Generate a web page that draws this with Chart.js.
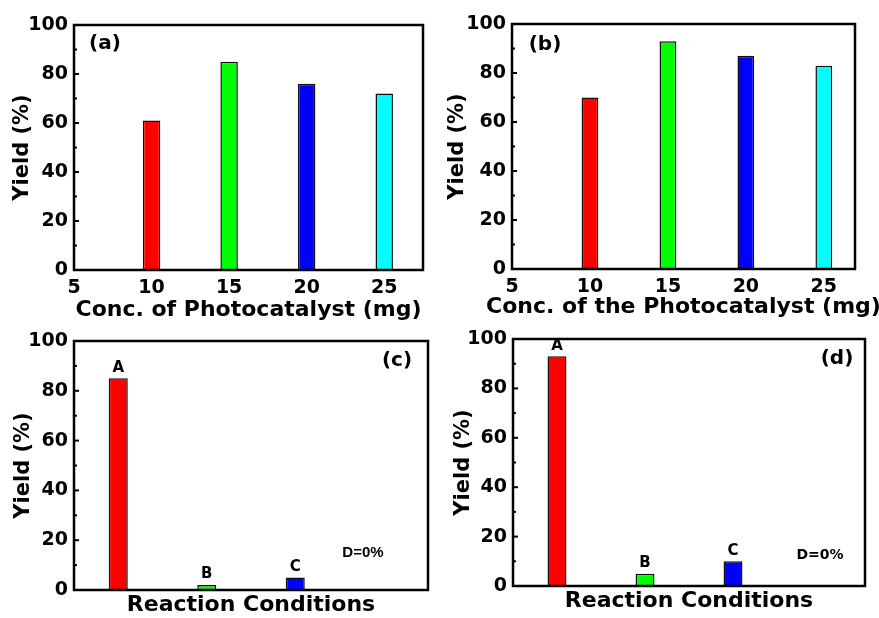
<!DOCTYPE html>
<html>
<head>
<meta charset="utf-8">
<script src="https://cdn.jsdelivr.net/npm/chart.js"></script>
<style>
  body { margin: 0; background: #fff; }
  .panel { position: absolute; }
</style>
</head>
<body>
<div class="panel" style="left:0;top:0"><canvas id="chartA" width="440" height="330"></canvas></div>
<div class="panel" style="left:440px;top:0"><canvas id="chartB" width="439" height="330"></canvas></div>
<div class="panel" style="left:0;top:318px"><canvas id="chartC" width="440" height="300"></canvas></div>
<div class="panel" style="left:440px;top:318px"><canvas id="chartD" width="439" height="300"></canvas></div>
<script>
// photocatalyst amount (mg) and yields
const concValues = [10, 15, 20, 25];
const yieldA = [61, 85, 76, 72];
const yieldB = [70, 93, 87, 83];
const xTickLabels = [5, 10, 15, 20, 25];
const yTickLabels = [0, 20, 40, 60, 80, 100];

// reaction conditions
const conditions = ['A', 'B', 'C', 'D'];
const yieldC = [85, 2, 5, 0];
const yieldD = [93, 5, 10, 0];
const noteText = 'D=0%';

const concColors = ['#ff0000', '#00ff00', '#0000ff', '#00ffff'];
const condColors = ['#ff0000', '#00ff00', '#0000ff', '#ffffff'];

Chart.defaults.font.family = 'DejaVu Sans';
Chart.defaults.font.weight = 'bold';
Chart.defaults.color = '#000';

// frame, inward ticks, x title, panel tag and bar letters
const decorPlugin = {
    id: 'decor',
    afterDatasetsDraw(chart, args, opts) {
        const ctx = chart.ctx;
        const area = chart.chartArea;
        const y = chart.scales.y;
        ctx.save();
        ctx.strokeStyle = '#000';
        ctx.lineWidth = 2;
        for (let v = 0; v <= 100; v += 10) {
            const py = y.getPixelForValue(v);
            const len = v % 20 === 0 ? 5 : 3;
            ctx.beginPath();
            ctx.moveTo(area.left, py);
            ctx.lineTo(area.left + len, py);
            ctx.stroke();
        }
        ctx.lineWidth = 2.5;
        ctx.strokeRect(area.left, area.top, area.right - area.left, area.bottom - area.top);

        ctx.fillStyle = '#000';
        ctx.textAlign = 'center';
        ctx.textBaseline = 'middle';
        ctx.font = 'bold 22px "DejaVu Sans"';
        ctx.fillText(opts.xTitle, (area.left + area.right) / 2, area.bottom + opts.xTitleY);

        ctx.font = 'bold 20px "DejaVu Sans"';
        const tx = opts.tagFromRight ? area.right - opts.tagX : area.left + opts.tagX;
        ctx.fillText(opts.tag, tx, area.top + opts.tagY);

        if (opts.letters) {
            const meta = chart.getDatasetMeta(0);
            ctx.font = 'bold ' + opts.letterSize + 'px "DejaVu Sans"';
            ctx.textBaseline = 'bottom';
            opts.letters.forEach((txt, i) => {
                const bar = meta.data[i];
                ctx.fillText(txt, bar.x, bar.y - 3);
            });
            ctx.font = opts.noteFont;
            ctx.textBaseline = 'middle';
            ctx.fillText(noteText, area.right - opts.noteX, area.bottom - opts.noteY);
        }
        ctx.restore();
    }
};

function yAxis(width, titlePad) {
    return {
        min: 0, max: 100,
        afterFit: s => { s.width = width; },
        afterBuildTicks: s => { s.ticks = yTickLabels.map(v => ({ value: v })); },
        grid: { display: false, drawTicks: false },
        border: { display: false },
        ticks: { font: { size: 19 }, padding: 6 },
        title: { display: true, text: 'Yield (%)', font: { size: 21 }, padding: { top: titlePad, bottom: 0 } }
    };
}

function concChart(id, values, xMax, barPct, opts) {
    new Chart(document.getElementById(id), {
        type: 'bar',
        data: {
            datasets: [{
                data: concValues.map((c, i) => ({ x: c, y: values[i] })),
                backgroundColor: concColors,
                borderColor: '#111',
                borderWidth: 1.5,
                borderSkipped: 'bottom',
                barPercentage: barPct,
                categoryPercentage: 1
            }]
        },
        options: {
            responsive: false,
            animation: false,
            devicePixelRatio: 1,
            layout: { padding: { left: 0, top: opts.top, right: opts.right, bottom: 0 } },
            plugins: { legend: { display: false }, tooltip: { enabled: false }, decor: opts.decor },
            scales: {
                x: {
                    type: 'linear',
                    offset: false,
                    min: 5, max: xMax,
                    afterFit: s => { s.height = opts.xHeight; },
                    afterBuildTicks: s => { s.ticks = xTickLabels.map(v => ({ value: v })); },
                    grid: { display: false, drawTicks: false, offset: false },
                    border: { display: false },
                    ticks: { font: { size: 19 }, padding: 7, maxRotation: 0 }
                },
                y: yAxis(opts.left, opts.yTitlePad)
            }
        },
        plugins: [decorPlugin]
    });
}

function condChart(id, values, opts) {
    new Chart(document.getElementById(id), {
        type: 'bar',
        data: {
            labels: conditions,
            datasets: [{
                data: values,
                backgroundColor: condColors,
                borderColor: '#111',
                borderWidth: 1.5,
                borderSkipped: 'bottom',
                barPercentage: 0.215,
                categoryPercentage: 1
            }]
        },
        options: {
            responsive: false,
            animation: false,
            devicePixelRatio: 1,
            layout: { padding: { left: 0, top: opts.top, right: opts.right, bottom: 0 } },
            plugins: { legend: { display: false }, tooltip: { enabled: false }, decor: opts.decor },
            scales: {
                x: {
                    afterFit: s => { s.height = opts.xHeight; },
                    grid: { display: false, drawTicks: false },
                    border: { display: false },
                    ticks: { display: false }
                },
                y: yAxis(opts.left, opts.yTitlePad)
            }
        },
        plugins: [decorPlugin]
    });
}

concChart('chartA', yieldA, 27.5, 0.225, {
    left: 74, top: 25, right: 17, xHeight: 60, yTitlePad: 10,
    decor: { tag: '(a)', tagX: 31, tagY: 19, xTitle: 'Conc. of Photocatalyst (mg)', xTitleY: 40 }
});
concChart('chartB', yieldB, 27, 0.215, {
    left: 72, top: 24, right: 24, xHeight: 61, yTitlePad: 5,
    decor: { tag: '(b)', tagX: 33, tagY: 21, xTitle: 'Conc. of the Photocatalyst (mg)', xTitleY: 38.5 }
});
condChart('chartC', yieldC, {
    left: 74, top: 23, right: 12, xHeight: 28, yTitlePad: 11,
    decor: { tag: '(c)', tagX: 31, tagY: 20, tagFromRight: true,
             xTitle: 'Reaction Conditions', xTitleY: 15,
             letters: conditions.slice(0, 3), letterSize: 15,
             noteFont: 'bold 15px "Liberation Sans"', noteX: 65, noteY: 37 }
});
condChart('chartD', yieldD, {
    left: 73, top: 21, right: 14, xHeight: 32, yTitlePad: 11,
    decor: { tag: '(d)', tagX: 28, tagY: 20, tagFromRight: true,
             xTitle: 'Reaction Conditions', xTitleY: 15.7,
             letters: conditions.slice(0, 3), letterSize: 15,
             noteFont: 'bold 14px "DejaVu Sans"', noteX: 45, noteY: 31 }
});
</script>
</body>
</html>
